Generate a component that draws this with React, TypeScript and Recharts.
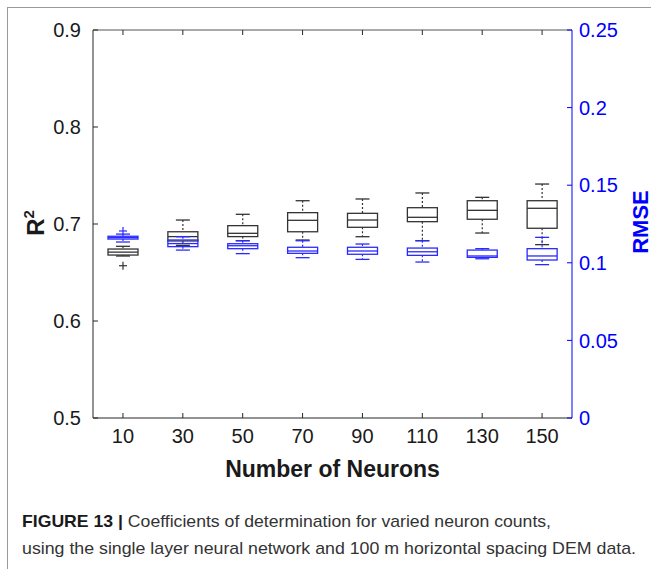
import React from 'react';
import { ComposedChart, Bar, XAxis, YAxis } from 'recharts';

const categories = ['10', '30', '50', '70', '90', '110', '130', '150'];

// R^2 box statistics (left axis)
const r2Min = [0.667, 0.678, 0.6828, 0.6835, 0.6869, 0.6828, 0.6907, 0.6787];
const r2Q1 = [0.668, 0.6825, 0.687, 0.692, 0.6966, 0.7024, 0.7049, 0.6956];
const r2Med = [0.671, 0.687, 0.6904, 0.7038, 0.7041, 0.7069, 0.7141, 0.7162];
const r2Q3 = [0.6742, 0.692, 0.6983, 0.7117, 0.711, 0.7168, 0.724, 0.724];
const r2Max = [0.677, 0.7041, 0.71, 0.724, 0.7258, 0.732, 0.7275, 0.7412];
const r2Outliers = [[0.657], [], [], [], [], [], [], []];

// RMSE box statistics (right axis)
const rmseMin = [0.1134, 0.1082, 0.1059, 0.1033, 0.1022, 0.1005, 0.1026, 0.0988];
const rmseQ1 = [0.1153, 0.1104, 0.1091, 0.1061, 0.1055, 0.1048, 0.1035, 0.1018];
const rmseMed = [0.1162, 0.1124, 0.111, 0.1076, 0.1076, 0.1071, 0.1044, 0.1044];
const rmseQ3 = [0.1171, 0.1147, 0.1123, 0.11, 0.11, 0.1095, 0.1082, 0.1091];
const rmseMax = [0.1185, 0.1168, 0.1142, 0.1142, 0.1121, 0.1142, 0.1091, 0.1164];
const rmseOutliers = [[0.1205], [], [], [], [], [], [], []];

const r2Ticks = [0.5, 0.6, 0.7, 0.8, 0.9];
const r2TickLabels = ['0.5', '0.6', '0.7', '0.8', '0.9'];
const rmseTicks = [0, 0.05, 0.1, 0.15, 0.2, 0.25];
const rmseTickLabels = ['0', '0.05', '0.1', '0.15', '0.2', '0.25'];

const xTitle = 'Number of Neurons';
const yLeftTitle = 'R';
const yLeftSup = '2';
const yRightTitle = 'RMSE';
const captionBold = 'FIGURE 13 |';
const captionLine1 = ' Coefficients of determination for varied neuron counts,';
const captionLine2 = 'using the single layer neural network and 100 m horizontal spacing DEM data.';

const FONT = '"Liberation Sans", Arial, Helvetica, sans-serif';
const AXIS_BLACK = '#262626';
const BOX_BLACK = '#333333';
const BLUE = '#0000ff';
const BOX_BLUE = '#2a2aff';

const data = categories.map((cat, i) => ({
  cat,
  r2Range: [r2Min[i], r2Max[i]],
  rmseRange: [rmseMin[i], rmseMax[i]],
  r2Stats: { min: r2Min[i], q1: r2Q1[i], med: r2Med[i], q3: r2Q3[i], max: r2Max[i], out: r2Outliers[i] },
  rmseStats: { min: rmseMin[i], q1: rmseQ1[i], med: rmseMed[i], q3: rmseQ3[i], max: rmseMax[i], out: rmseOutliers[i] },
}));

function renderBox(props: any, statsKey: string, color: string) {
  const { x, y, width, height, payload } = props;
  const s = payload[statsKey];
  const top = Math.min(y, y + height);
  const bot = Math.max(y, y + height);
  const span = s.max - s.min;
  const py = (v: number) => top + ((s.max - v) / span) * (bot - top);
  const cx = x + width / 2;
  const cap = 7;
  return (
    <g>
      <line x1={cx} x2={cx} y1={py(s.max)} y2={py(s.q3)} stroke={color} strokeWidth={1.2} strokeDasharray="2 2" />
      <line x1={cx} x2={cx} y1={py(s.q1)} y2={py(s.min)} stroke={color} strokeWidth={1.2} strokeDasharray="2 2" />
      <line x1={cx - cap} x2={cx + cap} y1={py(s.max)} y2={py(s.max)} stroke={color} strokeWidth={1.3} />
      <line x1={cx - cap} x2={cx + cap} y1={py(s.min)} y2={py(s.min)} stroke={color} strokeWidth={1.3} />
      <rect x={x} y={py(s.q3)} width={width} height={py(s.q1) - py(s.q3)} fill="none" stroke={color} strokeWidth={1.3} />
      <line x1={x} x2={x + width} y1={py(s.med)} y2={py(s.med)} stroke={color} strokeWidth={1.3} />
      {s.out.map((o: number, k: number) => (
        <g key={k}>
          <line x1={cx - 4} x2={cx + 4} y1={py(o)} y2={py(o)} stroke={color} strokeWidth={1.2} />
          <line x1={cx} x2={cx} y1={py(o) - 4} y2={py(o) + 4} stroke={color} strokeWidth={1.2} />
        </g>
      ))}
    </g>
  );
}

const TICK_IN = 5;

const LeftTick = (props: any) => {
  const { x, y, payload } = props;
  const idx = r2Ticks.indexOf(payload.value);
  const axisX = x + 12;
  return (
    <g>
      <line x1={axisX} x2={axisX + TICK_IN} y1={y} y2={y} stroke={AXIS_BLACK} />
      <text x={x} y={y} dy="0.36em" textAnchor="end" fontSize={20} fontFamily={FONT} fill="#1a1a1a">
        {idx >= 0 ? r2TickLabels[idx] : payload.value}
      </text>
    </g>
  );
};

const RightTick = (props: any) => {
  const { x, y, payload } = props;
  const idx = rmseTicks.indexOf(payload.value);
  const axisX = x - 7;
  return (
    <g>
      <line x1={axisX - TICK_IN} x2={axisX} y1={y} y2={y} stroke={BLUE} />
      <text x={x} y={y} dy="0.36em" textAnchor="start" fontSize={20} fontFamily={FONT} fill={BLUE}>
        {idx >= 0 ? rmseTickLabels[idx] : payload.value}
      </text>
    </g>
  );
};

const BottomTick = (props: any) => {
  const { x, y, payload } = props;
  const axisY = y - 11;
  return (
    <g>
      <line x1={x} x2={x} y1={axisY} y2={axisY - TICK_IN} stroke={AXIS_BLACK} />
      <text x={x} y={y} dy="0.71em" textAnchor="middle" fontSize={20} fontFamily={FONT} fill="#1a1a1a">
        {payload.value}
      </text>
    </g>
  );
};

const TopTick = (props: any) => {
  const { x, y } = props;
  return <line x1={x} x2={x} y1={y} y2={y + TICK_IN} stroke={AXIS_BLACK} />;
};

export default function App() {
  return (
    <div style={{ position: 'absolute', left: 0, top: 0, width: 651, height: 569, background: '#fff', overflow: 'hidden' }}>
      <div
        style={{
          position: 'absolute',
          left: 7,
          top: 7,
          width: 700,
          height: 600,
          borderLeft: '1px solid #9a9a9a',
          borderTop: '1px solid #9a9a9a',
        }}
      />
      <div style={{ position: 'absolute', left: 0, top: 0 }}>
        <ComposedChart width={651} height={495} data={data} margin={{ top: 29, right: 0, bottom: 0, left: 0 }}>
          <XAxis
            xAxisId="bottom"
            dataKey="cat"
            orientation="bottom"
            height={77}
            stroke={AXIS_BLACK}
            tickLine={false}
            tickSize={0}
            tickMargin={11}
            tick={BottomTick}
            interval={0}
            label={{ value: xTitle, position: 'insideBottom', offset: 18, fontSize: 23, fontWeight: 'bold', fill: '#1a1a1a', fontFamily: FONT } as any}
          />
          <XAxis
            xAxisId="top"
            dataKey="cat"
            orientation="top"
            height={1}
            stroke="#555"
            tickLine={false}
            tickSize={0}
            tickMargin={0}
            tick={TopTick}
            interval={0}
          />
          <YAxis
            yAxisId="left"
            orientation="left"
            width={93}
            domain={[0.5, 0.9]}
            ticks={r2Ticks}
            type="number"
            stroke={AXIS_BLACK}
            tickLine={false}
            tickSize={0}
            tickMargin={12}
            tick={LeftTick}
            label={
              ((p: any) => {
                const vb = p.viewBox;
                const cx = 44;
                const cy = vb.y + vb.height / 2 - 1;
                return (
                  <text
                    transform={`translate(${cx},${cy}) rotate(-90)`}
                    textAnchor="middle"
                    fontSize={24}
                    fontWeight="bold"
                    fontFamily={FONT}
                    fill="#1a1a1a"
                  >
                    {yLeftTitle}
                    <tspan fontSize={15} dy={-10}>{yLeftSup}</tspan>
                  </text>
                );
              }) as any
            }
          />
          <YAxis
            yAxisId="right"
            orientation="right"
            width={79}
            domain={[0, 0.25]}
            ticks={rmseTicks}
            type="number"
            stroke={BLUE}
            tickLine={false}
            tickSize={0}
            tickMargin={7}
            tick={RightTick}
            label={
              ((p: any) => {
                const vb = p.viewBox;
                const cx = 640;
                const cy = vb.y + vb.height / 2 - 2;
                return (
                  <text
                    transform={`translate(${cx},${cy}) rotate(-90)`}
                    textAnchor="middle"
                    dominantBaseline="central"
                    fontSize={22}
                    fontWeight="bold"
                    fontFamily={FONT}
                    fill={BLUE}
                  >
                    {yRightTitle}
                  </text>
                );
              }) as any
            }
          />
          <Bar
            xAxisId="bottom"
            yAxisId="left"
            dataKey="r2Range"
            barSize={30}
            isAnimationActive={false}
            shape={(p: any) => renderBox(p, 'r2Stats', BOX_BLACK)}
          />
          <Bar
            xAxisId="top"
            yAxisId="right"
            dataKey="rmseRange"
            barSize={30}
            isAnimationActive={false}
            shape={(p: any) => renderBox(p, 'rmseStats', BOX_BLUE)}
          />
        </ComposedChart>
      </div>
      <svg width={651} height={90} style={{ position: 'absolute', left: 0, top: 480 }}>
        <text x={22} y={47} fontSize={17} fontFamily={FONT} fill="#333" textLength={529} lengthAdjust="spacingAndGlyphs">
          <tspan fontWeight="bold" fill="#1a1a1a">{captionBold}</tspan>
          <tspan>{captionLine1}</tspan>
        </text>
        <text x={22} y={74} fontSize={17} fontFamily={FONT} fill="#333" textLength={614} lengthAdjust="spacingAndGlyphs">
          {captionLine2}
        </text>
      </svg>
    </div>
  );
}
